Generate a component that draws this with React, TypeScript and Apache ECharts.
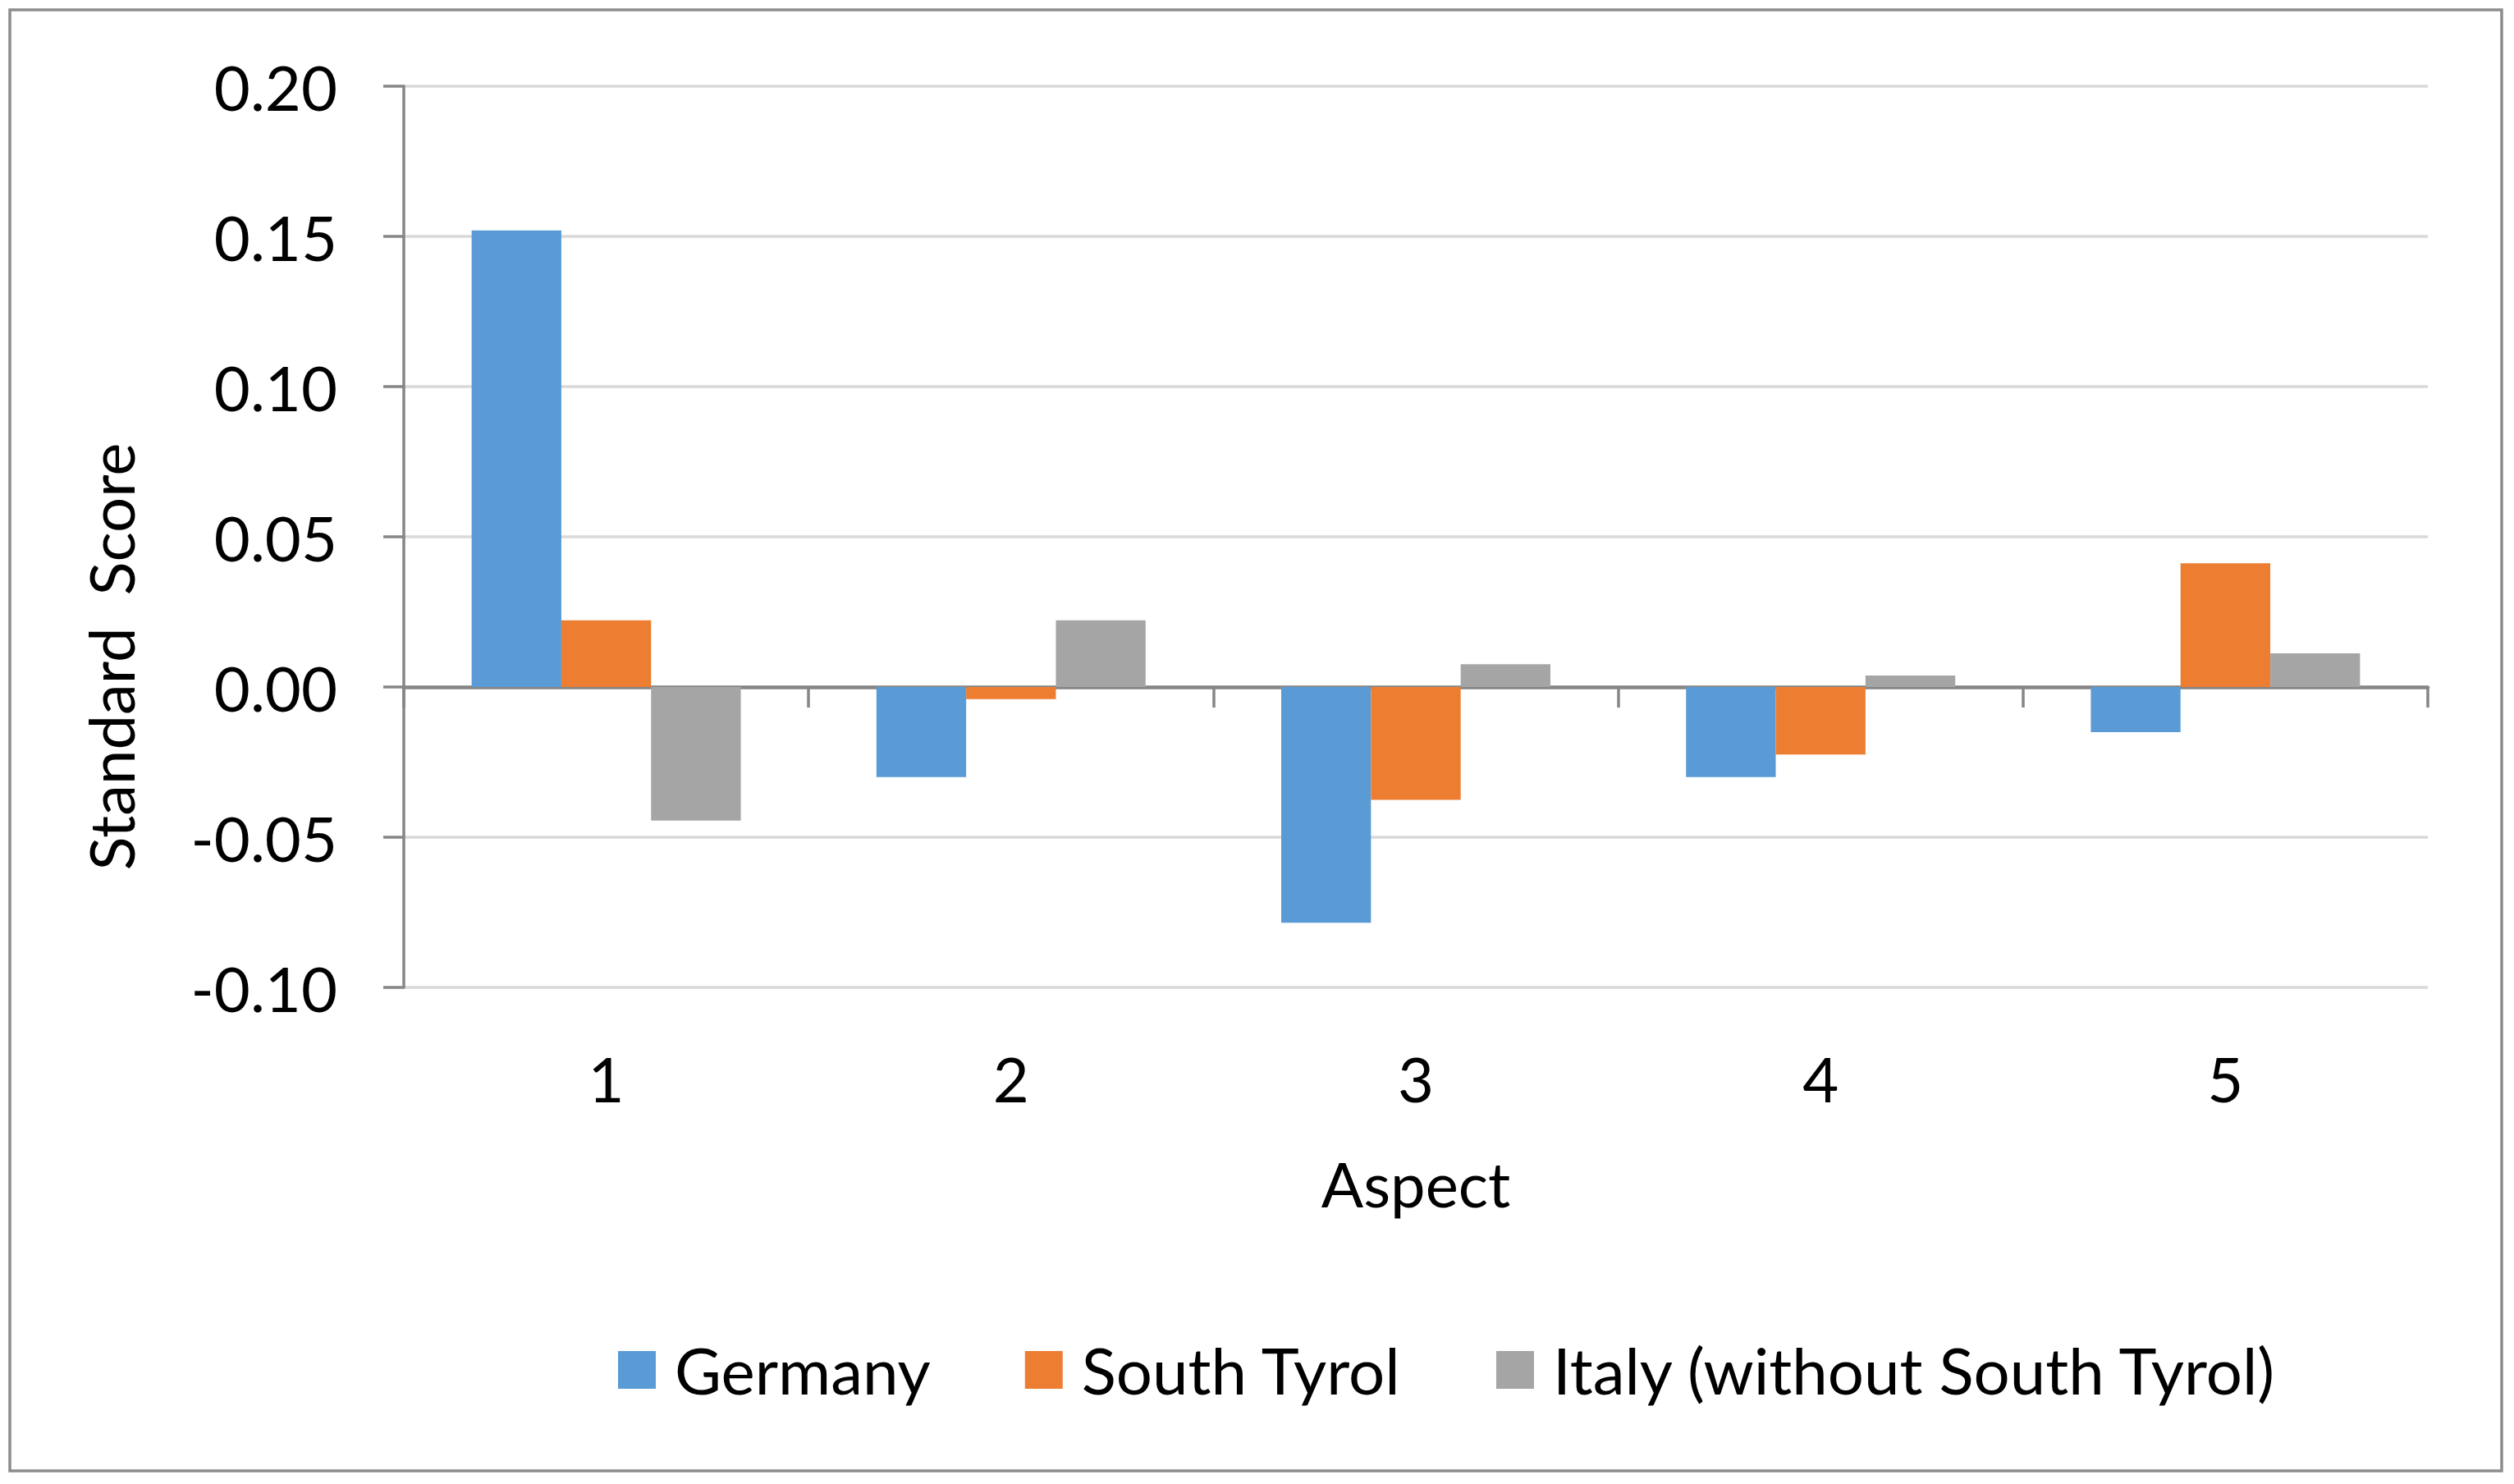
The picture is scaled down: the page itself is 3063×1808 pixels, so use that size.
import React, { useEffect, useRef } from "react";
import * as echarts from "echarts";

const categories = ["1", "2", "3", "4", "5"];
const germany = [0.152, -0.030, -0.0785, -0.030, -0.015];
const southTyrol = [0.0222, -0.004, -0.0376, -0.0225, 0.0412];
const italy = [-0.0445, 0.0222, 0.0076, 0.0038, 0.0112];
const seriesNames = ["Germany", "South Tyrol", "Italy (without South Tyrol)"];
const colors = ["#5b9bd5", "#ed7d31", "#a5a5a5"];
const yTicks = { min: -0.1, max: 0.2, interval: 0.05 };

const FONT = "Lato";

export default function App() {
  const ref = useRef<HTMLDivElement>(null);
  useEffect(() => {
    if (!ref.current) return;
    const chart = echarts.init(ref.current, null, { renderer: "svg" });
    const seriesData = [germany, southTyrol, italy];
    chart.setOption({
      animation: false,
      backgroundColor: "#ffffff",
      textStyle: { fontFamily: FONT },
      grid: { left: 492, right: 105, top: 105, bottom: 605, containLabel: false },
      legend: {
        data: seriesNames,
        left: 748,
        top: 1625,
        icon: "rect",
        itemWidth: 46,
        itemHeight: 46,
        itemGap: 115,
        textStyle: { fontSize: 78, color: "#000", fontFamily: FONT, padding: [0, 0, 0, 18] },
      },
      xAxis: [
        {
          type: "category",
          data: categories,
          position: "bottom",
          axisLine: { show: true, onZero: true, lineStyle: { color: "#868686", width: 4.5 } },
          axisTick: { show: true, length: 25, lineStyle: { color: "#868686", width: 3.5 } },
          axisLabel: { show: false },
          splitLine: { show: false },
        },
        {
          type: "category",
          data: categories,
          position: "bottom",
          axisLine: { show: false, onZero: false },
          axisTick: { show: false },
          axisLabel: { show: true, fontSize: 76, color: "#000", margin: 72, fontFamily: FONT },
          name: "Aspect",
          nameLocation: "middle",
          nameGap: 200,
          nameTextStyle: { fontSize: 76, color: "#000", fontFamily: FONT },
        },
      ],
      yAxis: {
        type: "value",
        min: yTicks.min,
        max: yTicks.max,
        interval: yTicks.interval,
        axisLine: { show: true, lineStyle: { color: "#868686", width: 3.5 } },
        axisTick: { show: true, length: 25, lineStyle: { color: "#868686", width: 3.5 } },
        axisLabel: {
          fontSize: 76,
          color: "#000",
          margin: 81,
          fontFamily: FONT,
          formatter: (v: number) => v.toFixed(2),
        },
        splitLine: { show: true, lineStyle: { color: "#d9d9d9", width: 3.5 } },
      },
      series: seriesNames.map((name, i) => ({
        name,
        type: "bar",
        xAxisIndex: 0,
        data: seriesData[i],
        itemStyle: { color: colors[i] },
        barGap: "0%",
        barCategoryGap: "33.5%",
      })),
      graphic: [
        {
          type: "rect",
          shape: { x: 12, y: 12, width: 3036, height: 1780 },
          style: { fill: "none", stroke: "#8c8c8c", lineWidth: 3.5 },
          silent: true,
        },
        {
          type: "text",
          x: 134,
          y: 800,
          rotation: Math.PI / 2,
          style: {
            text: "Standard  Score",
            fontSize: 76,
            fontFamily: FONT,
            fill: "#000",
            align: "center",
            verticalAlign: "middle",
          },
        },
      ],
    });
    return () => chart.dispose();
  }, []);
  return (
    <div
      ref={ref}
      style={{ position: "absolute", left: 0, top: 0, width: 3063, height: 1808 }}
    />
  );
}
